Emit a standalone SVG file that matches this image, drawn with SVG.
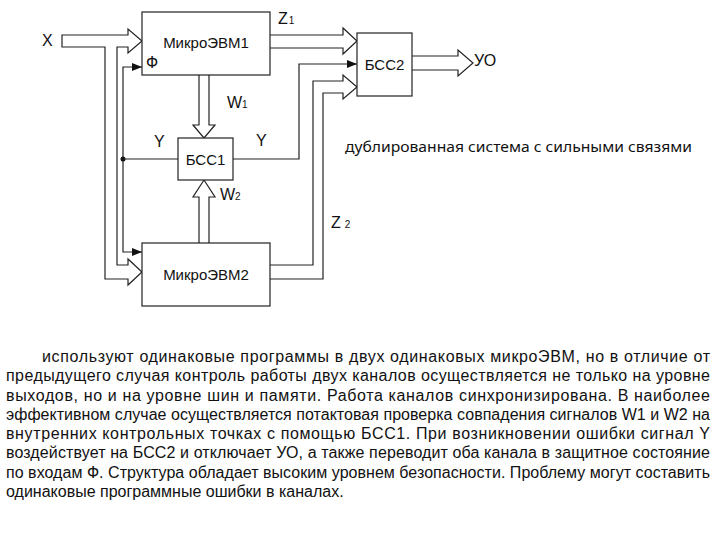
<svg xmlns="http://www.w3.org/2000/svg" width="720" height="540" viewBox="0 0 720 540">
<defs>
<style>
.ln{fill:none;stroke:#222;stroke-width:1.2}
.wa{fill:#fff;stroke:#222;stroke-width:1.2;stroke-linejoin:miter}
.box{fill:#fff;stroke:#222;stroke-width:1.2}
.lb{font-family:"Liberation Sans",Arial,sans-serif;font-size:15px;fill:#111}
.sm{font-family:"Liberation Sans",Arial,sans-serif;font-size:16px;fill:#111}
.sub{font-size:10px}
.par{font-family:"Liberation Sans",Arial,sans-serif;font-size:16px;fill:#111}
.cap{font-family:"Noto Sans","Open Sans",sans-serif;font-size:14.5px;fill:#111}
</style>
<marker id="ah" viewBox="0 0 10 8" refX="10" refY="4" markerWidth="10" markerHeight="8" markerUnits="userSpaceOnUse" orient="auto-start-reverse">
<path d="M0,0 L10,4 L0,8 Z" fill="#111"/>
</marker>
</defs>
<rect width="720" height="540" fill="#fff"/>

<g id="connectors">
<path class="wa" d="M62,35 H128 V29 L142,41 L128,53 V47 H117 V265 H128 V259 L142,272 L128,285 V279 H105 V47 H62 Z"/>
<path class="ln" d="M142,67 H123 V252 H142" marker-start="url(#ah)" marker-end="url(#ah)"/>
<circle cx="123" cy="159" r="2.5" fill="#111"/>
<path class="ln" d="M178,159 H123"/>
<path class="ln" d="M233,159 H299 V64 H357" marker-end="url(#ah)"/>
<path class="wa" d="M270,35 H343 V28 L357,41 L343,54 V48 H270"/>
<path class="wa" d="M412,56 H458 V50 L473,63 L458,76 V70 H412"/>
<path class="wa" d="M270,265 H313 V81 H343 V75 L357,87 L343,99 V93 H323 V279 H270"/>
<path class="wa" d="M199,75 V125 H193 L204,138 L215,125 H209 V75"/>
<path class="wa" d="M199,243 V197 H193 L204,180 L215,197 H209 V243"/>
</g>

<g id="evm1">
<rect class="box" x="142" y="12" width="128" height="63"/>
<text class="lb" x="206" y="48" text-anchor="middle">МикроЭВМ1</text>
</g>
<g id="evm2">
<rect class="box" x="142" y="243" width="128" height="63"/>
<text class="lb" x="206" y="280" text-anchor="middle">МикроЭВМ2</text>
</g>
<g id="bss1">
<rect class="box" x="178" y="138" width="55" height="42"/>
<text class="lb" x="205.5" y="165" text-anchor="middle">БСС1</text>
</g>
<g id="bss2">
<rect class="box" x="357" y="33" width="55" height="63"/>
<text class="lb" x="384.5" y="70" text-anchor="middle">БСС2</text>
</g>

<g id="labels">
<text class="sm" x="42" y="46" font-size="17">X</text>
<text class="sm" x="146" y="68" font-size="14">Ф</text>
<text class="sm" x="278" y="24">Z<tspan class="sub" dx="1">1</tspan></text>
<text class="sm" x="227" y="108">W<tspan class="sub" dx="0">1</tspan></text>
<text class="sm" x="220" y="200">W<tspan class="sub" dx="0">2</tspan></text>
<text class="sm" x="154" y="147">Y</text>
<text class="sm" x="256" y="146">Y</text>
<text class="sm" x="331" y="228">Z<tspan class="sub" dx="4">2</tspan></text>
<text class="sm" x="474" y="66">УО</text>
<text class="cap" x="345" y="152" textLength="347" lengthAdjust="spacingAndGlyphs">дублированная система с сильными связями</text>
</g>

<g id="paragraph">
<text class="par" x="42" y="362" textLength="668" lengthAdjust="spacing">используют одинаковые программы в двух одинаковых микроЭВМ, но в отличие от</text>
<text class="par" x="6" y="381.3" textLength="704" lengthAdjust="spacing">предыдущего случая контроль работы двух каналов осуществляется не только на уровне</text>
<text class="par" x="6" y="400.6" textLength="704" lengthAdjust="spacing">выходов, но и на уровне шин и памяти. Работа каналов синхронизирована. В наиболее</text>
<text class="par" x="6" y="419.9" textLength="704" lengthAdjust="spacing">эффективном случае осуществляется потактовая проверка совпадения сигналов W1 и W2 на</text>
<text class="par" x="6" y="439.1" textLength="704" lengthAdjust="spacing">внутренних контрольных точках с помощью БСС1. При возникновении ошибки сигнал Y</text>
<text class="par" x="6" y="458.4" textLength="704" lengthAdjust="spacing">воздействует на БСС2 и отключает УО, а также переводит оба канала в защитное состояние</text>
<text class="par" x="6" y="477.7" textLength="704" lengthAdjust="spacing">по входам Ф. Структура обладает высоким уровнем безопасности. Проблему могут составить</text>
<text class="par" x="6" y="497">одинаковые программные ошибки в каналах.</text>
</g>
</svg>
